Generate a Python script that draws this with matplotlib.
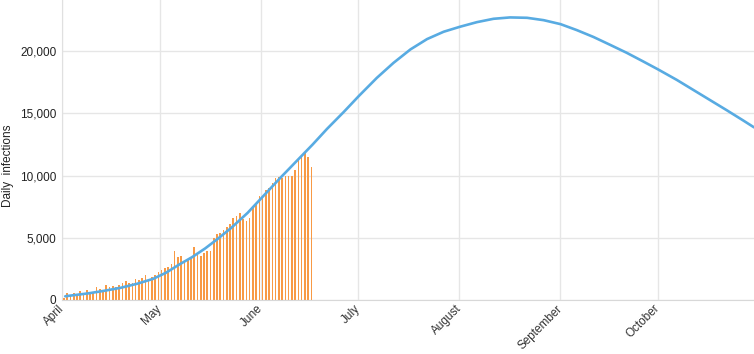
import matplotlib
matplotlib.use("Agg")
import matplotlib.pyplot as plt
import matplotlib.ticker as mticker
import pandas as pd

plt.rcParams['font.family'] = ['Liberation Sans', 'DejaVu Sans']

start = pd.Timestamp('2020-04-01')

# Daily reported infections (bars), one per day from 1 April
daily_cases = [
    190, 590, 400, 590, 400, 720, 540, 800, 590, 670,
    1070, 910, 750, 1180, 1020, 1120, 1070, 1200, 1340, 1550,
    1390, 1340, 1660, 1610, 1740, 1980, 1660, 1870, 2010, 2280,
    2410, 2540, 2680, 2890, 3910, 3480, 3530, 3080, 3210, 3350,
    4230, 3610, 3530, 3750, 3940, 3940, 5010, 5270, 5410, 5620,
    5840, 6080, 6610, 6740, 6960, 6480, 6370, 6560, 7360, 7680,
    8350, 8220, 8830, 9020, 9370, 9830, 9910, 9830, 9960, 9960,
    9960, 10440, 11380, 11650, 11840, 11500, 10660,
]

# Model curve: days after 1 April and daily infections
curve_days = [1, 4, 8, 13, 18, 23, 28, 32, 36, 40, 44, 48, 52, 57, 62, 67, 72, 77,
              81.4, 86.5, 91.2, 96.7, 101.8, 107, 112.1, 117.2, 122.2, 127.4, 132.5,
              137.6, 142.8, 147.9, 153.1, 158.1, 163.2, 168.3, 173.4, 178.5, 183,
              188.8, 193.9, 199, 204.1, 209.2, 212.5]
curve_values = [300, 400, 530, 740, 980, 1300, 1700, 2200, 2850, 3450, 4150, 4950, 5800,
                7000, 8400, 9800, 11150, 12500,
                13750, 15100, 16400, 17850, 19050, 20130, 20960, 21550, 21950, 22320,
                22590, 22700, 22670, 22480, 22160, 21680, 21130, 20500, 19860, 19160,
                18530, 17680, 16870, 16060, 15250, 14420, 13870]

month_ticks = ['2020-04-01', '2020-05-01', '2020-06-01', '2020-07-01',
               '2020-08-01', '2020-09-01', '2020-10-01']
month_labels = ['April', 'May', 'June', 'July', 'August', 'September', 'October']
y_ticks = [0, 5000, 10000, 15000, 20000]

fig = plt.figure(figsize=(7.54, 3.54), dpi=100)
ax = fig.add_axes([62/754, 54/354, 692/754, 300/354])

bar_x = [start + pd.Timedelta(days=i + 0.6) for i in range(len(daily_cases))]
ax.bar(bar_x, daily_cases, width=0.5, color='#f89a45', linewidth=0, zorder=2)

line_x = [start + pd.Timedelta(days=d) for d in curve_days]
ax.plot(line_x, curve_values, color='#58abe2', linewidth=1.9, zorder=3,
        solid_capstyle='round', solid_joinstyle='round')

ax.set_xlim(start, start + pd.Timedelta(days=212.5))
ax.set_ylim(0, 24100)

ax.set_xticks([pd.Timestamp(t) for t in month_ticks])
ax.set_xticklabels(month_labels, rotation=45, ha='right', va='center',
                   rotation_mode='anchor', fontsize=8.5, color='#333333')
ax.set_yticks(y_ticks)
ax.yaxis.set_major_formatter(mticker.FuncFormatter(lambda v, p: f"{int(v):,}"))
ax.tick_params(axis='y', labelsize=8.5, colors='#222222', length=0, pad=4)
ax.tick_params(axis='x', length=0, pad=5)

ax.grid(True, color='#e6e6e6', linewidth=1.0, zorder=0)
ax.set_axisbelow(True)
for s in ['top', 'right']:
    ax.spines[s].set_visible(False)
ax.spines['left'].set_color('#e0e0e0')
ax.spines['bottom'].set_color('#d8d8d8')

fig.text(8/754, 1 - 166/354, 'Daily  infections', rotation=90, fontsize=8.5,
         color='#222222', ha='center', va='center')

fig.savefig('out.png', dpi=100)
